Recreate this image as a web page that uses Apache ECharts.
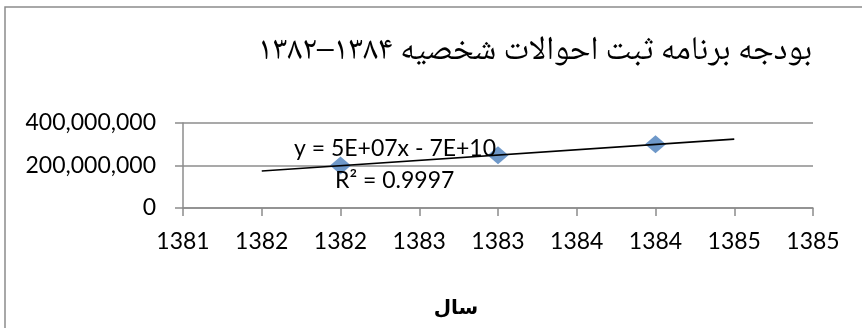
<!DOCTYPE html>
<html>
<head>
<meta charset="utf-8">
<script src="https://cdn.jsdelivr.net/npm/echarts@6/dist/echarts.min.js"></script>
<style>
  html, body { margin: 0; padding: 0; background: #ffffff; }
  #chart { width: 862px; height: 328px; }
</style>
</head>
<body>
<div id="chart"></div>
<script>
// ---- Data ----
const chartTitle = 'بودجه برنامه ثبت احوالات شخصیه ۱۳۸۴–۱۳۸۲';
const xAxisName = 'سال';
const years = [1382, 1383, 1384];
const budget = [200000000, 248000000, 300000000];
const xTickLabels = ['1381', '1382', '1382', '1383', '1383', '1384', '1384', '1385', '1385'];
const yTickLabels = ['0', '200,000,000', '400,000,000'];
const trendEquation = 'y = 5E+07x - 7E+10';
const trendR2 = 'R² = 0.9997';
const trendBackward = 0.5;
const trendForward = 0.5;

// ---- Linear regression from the data ----
const n = years.length;
const mx = years.reduce((a, b) => a + b, 0) / n;
const my = budget.reduce((a, b) => a + b, 0) / n;
let sxy = 0, sxx = 0;
for (let i = 0; i < n; i++) { sxy += (years[i] - mx) * (budget[i] - my); sxx += (years[i] - mx) ** 2; }
const slope = sxy / sxx;
const intercept = my - slope * mx;
const x0 = Math.min(...years) - trendBackward;
const x1 = Math.max(...years) + trendForward;
const trendData = [[x0, intercept + slope * x0], [x1, intercept + slope * x1]];

const xMin = 1381, xMax = 1385, xStep = 0.5;
const yMin = 0, yMax = 400000000, yStep = 200000000;

const font = 'Lato, "Open Sans", sans-serif';
const gray = '#8c8c8c';

const chart = echarts.init(document.getElementById('chart'), null, { renderer: 'canvas' });
chart.setOption({
  backgroundColor: '#ffffff',
  animation: false,
  title: [
    {
      text: chartTitle,
      right: 45, top: 33,
      textStyle: { fontFamily: '"Noto Naskh Arabic", "Noto Serif Arabic", "DejaVu Sans", serif', fontSize: 33, fontWeight: 'normal', color: '#000' }
    },
    {
      text: xAxisName,
      left: 451, top: 294, textAlign: 'center',
      textStyle: { fontFamily: '"DejaVu Sans", sans-serif', fontSize: 20, fontWeight: 'bold', color: '#000' }
    }
  ],
  grid: { left: 183, right: 49, top: 123, bottom: 120, containLabel: false },
  xAxis: {
    type: 'value', min: xMin, max: xMax, interval: xStep,
    axisLine: { show: true, onZero: false, lineStyle: { color: gray, width: 1.5 } },
    axisTick: { show: true, length: 8, lineStyle: { color: gray, width: 1.5 } },
    splitLine: { show: false },
    axisLabel: {
      margin: 22, fontFamily: font, fontSize: 23, color: '#000',
      formatter: v => xTickLabels[Math.round((v - xMin) / xStep)]
    }
  },
  yAxis: {
    type: 'value', min: yMin, max: yMax, interval: yStep,
    axisLine: { show: true, lineStyle: { color: gray, width: 1.5 } },
    axisTick: { show: true, length: 8, lineStyle: { color: gray, width: 1.5 } },
    splitLine: { show: true, lineStyle: { color: gray, width: 1.5 } },
    axisLabel: {
      margin: 27, fontFamily: font, fontSize: 23, color: '#000',
      formatter: v => yTickLabels[Math.round((v - yMin) / yStep)]
    }
  },
  series: [
    {
      type: 'line',
      data: trendData,
      symbol: 'none',
      lineStyle: { color: '#000', width: 1.6 },
      z: 3
    },
    {
      type: 'scatter',
      data: years.map((y, i) => [y, budget[i]]),
      symbol: 'diamond',
      symbolSize: [21, 18],
      itemStyle: { color: '#4A7EBB' },
      z: 2
    }
  ],
  graphic: [
    { type: 'rect', shape: { x: 5, y: 7, width: 900, height: 400 }, style: { fill: 'none', stroke: '#8c8c8c', lineWidth: 1.5 }, silent: true },
    { type: 'text', x: 294, y: 149, style: { text: trendEquation, font: '23px ' + font, fill: '#000', textVerticalAlign: 'middle' }, z: 10 },
    { type: 'text', x: 335, y: 181, style: { text: trendR2, font: '23px ' + font, fill: '#000', textVerticalAlign: 'middle' }, z: 10 }
  ]
});
</script>
</body>
</html>
